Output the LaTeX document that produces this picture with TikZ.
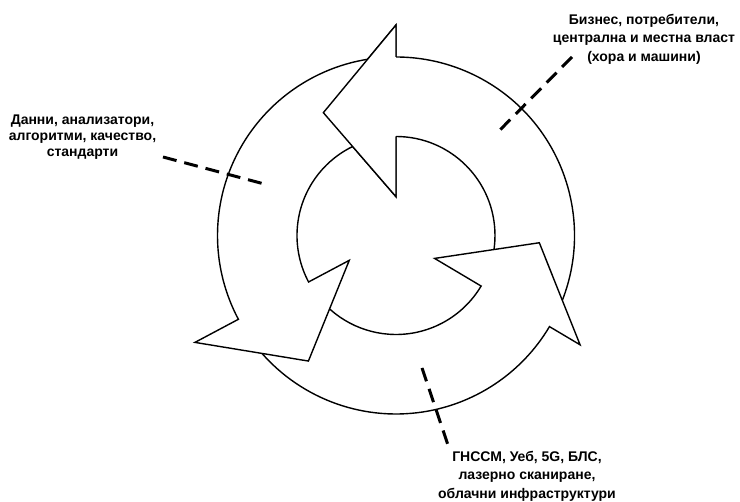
\documentclass[tikz,border=0pt]{standalone}
\usepackage{fontspec}
\setmainfont{Liberation Sans}
\begin{document}
\begin{tikzpicture}[x=1pt,y=1pt,
  ring/.style={draw=black, fill=white, line width=1.4pt, line join=miter},
  headline/.style={draw=black, line width=1.4pt, line join=miter},
  lbl/.style={font=\bfseries\fontsize{14}{#1}\selectfont, align=center, inner sep=0pt},
  dashline/.style={line width=3pt, dash pattern=on 14pt off 8pt}]
\useasboundingbox (-396,-266.5) rectangle (344,235.5);
\def\Ro{178.5}
\def\Ri{99}
% arrow A (top)
\path[ring] (-26:\Ro) arc[start angle=-26, end angle=90, radius=\Ro]
  -- (90:210.5) -- (120.6:142.7) -- (90:38.8) -- (90:\Ri)
  arc[start angle=90, end angle=-26, radius=\Ri] -- cycle;
% arrow C (right)
\path[ring] (-145:\Ro) arc[start angle=-145, end angle=-30.7, radius=\Ro]
  -- (-30.7:214.1) -- (-2.9:143.5) -- (-30.7:44.9) -- (-30.7:\Ri)
  arc[start angle=-30.7, end angle=-145, radius=\Ri] -- cycle;
% arrow B (left)
\path[ring] (95:\Ro) arc[start angle=95, end angle=208, radius=\Ro]
  -- (208:227.7) -- (235.1:153.1) -- (208:52.9) -- (208:\Ri)
  arc[start angle=208, end angle=95, radius=\Ri] -- cycle;
% head of arrow A again, on top of the tail of arrow B
\fill[white] (90:210.5) -- (120.6:142.7) -- (90:38.8) -- cycle;
\path[headline] (90:\Ro) -- (90:210.5) -- (120.6:142.7) -- (90:38.8) -- (90:\Ri);
% labels
\node[lbl=16] (tL) at (-313.5,98.3) {Данни, анализатори,\\алгоритми, качество,\\стандарти};
\node[lbl=18.5] (tR) at (248,196.5) {Бизнес, потребители,\\централна и местна власт\\(хора и машини)};
\node[lbl=18.5] (tB) at (131,-240.5) {ГНССМ, Уеб, 5G, БЛС,\\лазерно сканиране,\\облачни инфраструктури};
% dashed leaders
\coordinate (lA) at (-233,78.5);
\coordinate (lB) at (-128,50.5);
\coordinate (rA) at (176,178.5);
\coordinate (rB) at (100,101.5);
\coordinate (bA) at (26,-132.5);
\coordinate (bB) at (53,-212.5);
\draw[dashline] (lA) -- (lB);
\draw[dashline] (rA) -- (rB);
\draw[dashline] (bA) -- (bB);
\end{tikzpicture}
\end{document}
